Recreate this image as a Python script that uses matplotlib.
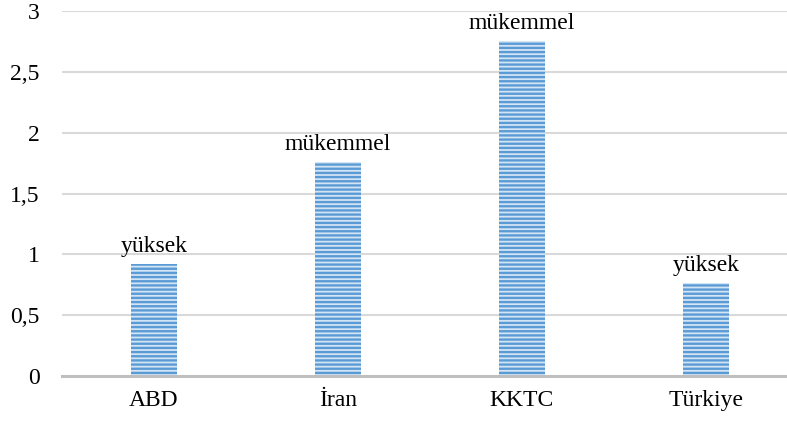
import matplotlib
matplotlib.use('Agg')
from matplotlib import pyplot as plt
import numpy as np

plt.rcParams['font.family'] = 'Liberation Serif'
plt.rcParams['hatch.color'] = '#5b9bd5'
plt.rcParams['hatch.linewidth'] = 1.7

ulkeler = ['ABD', 'İran', 'KKTC', 'Türkiye']
degerler = [0.92, 1.76, 2.75, 0.765]
etiketler = ['yüksek', 'mükemmel', 'mükemmel', 'yüksek']
yticks = [0, 0.5, 1, 1.5, 2, 2.5, 3]
ytick_etiket = ['0', '0,5', '1', '1,5', '2', '2,5', '3']

fig = plt.figure(figsize=(7.87, 4.23), dpi=100)
ax = fig.add_axes([0.0788, 0.111, 0.935, 0.863])

x = np.arange(len(ulkeler))
bars = ax.bar(x, degerler, width=0.25, color='#d3e4f5', edgecolor='#5b9bd5',
              linewidth=0, hatch='----', zorder=3)

for xi, v, t in zip(x, degerler, etiketler):
    ax.annotate(t, (xi, v), xytext=(0, 5), textcoords='offset points',
                ha='center', va='bottom', fontsize=17)

ax.set_xlim(-0.5, 3.5)
ax.set_ylim(0, 3)
ax.set_xticks(x)
ax.set_xticklabels(ulkeler, fontsize=17)
ax.set_yticks(yticks)
ax.set_yticklabels(ytick_etiket, fontsize=17)
ax.tick_params(axis='both', length=0)
ax.tick_params(axis='y', pad=16)
ax.tick_params(axis='x', pad=10)

ax.grid(axis='y', color='#d9d9d9', linewidth=1.5, zorder=0)
for s in ['left', 'right', 'top']:
    ax.spines[s].set_visible(False)
ax.spines['bottom'].set_color('#bfbfbf')
ax.spines['bottom'].set_linewidth(2.2)
ax.spines['bottom'].set_zorder(4)

fig.savefig('out.png', dpi=100)
